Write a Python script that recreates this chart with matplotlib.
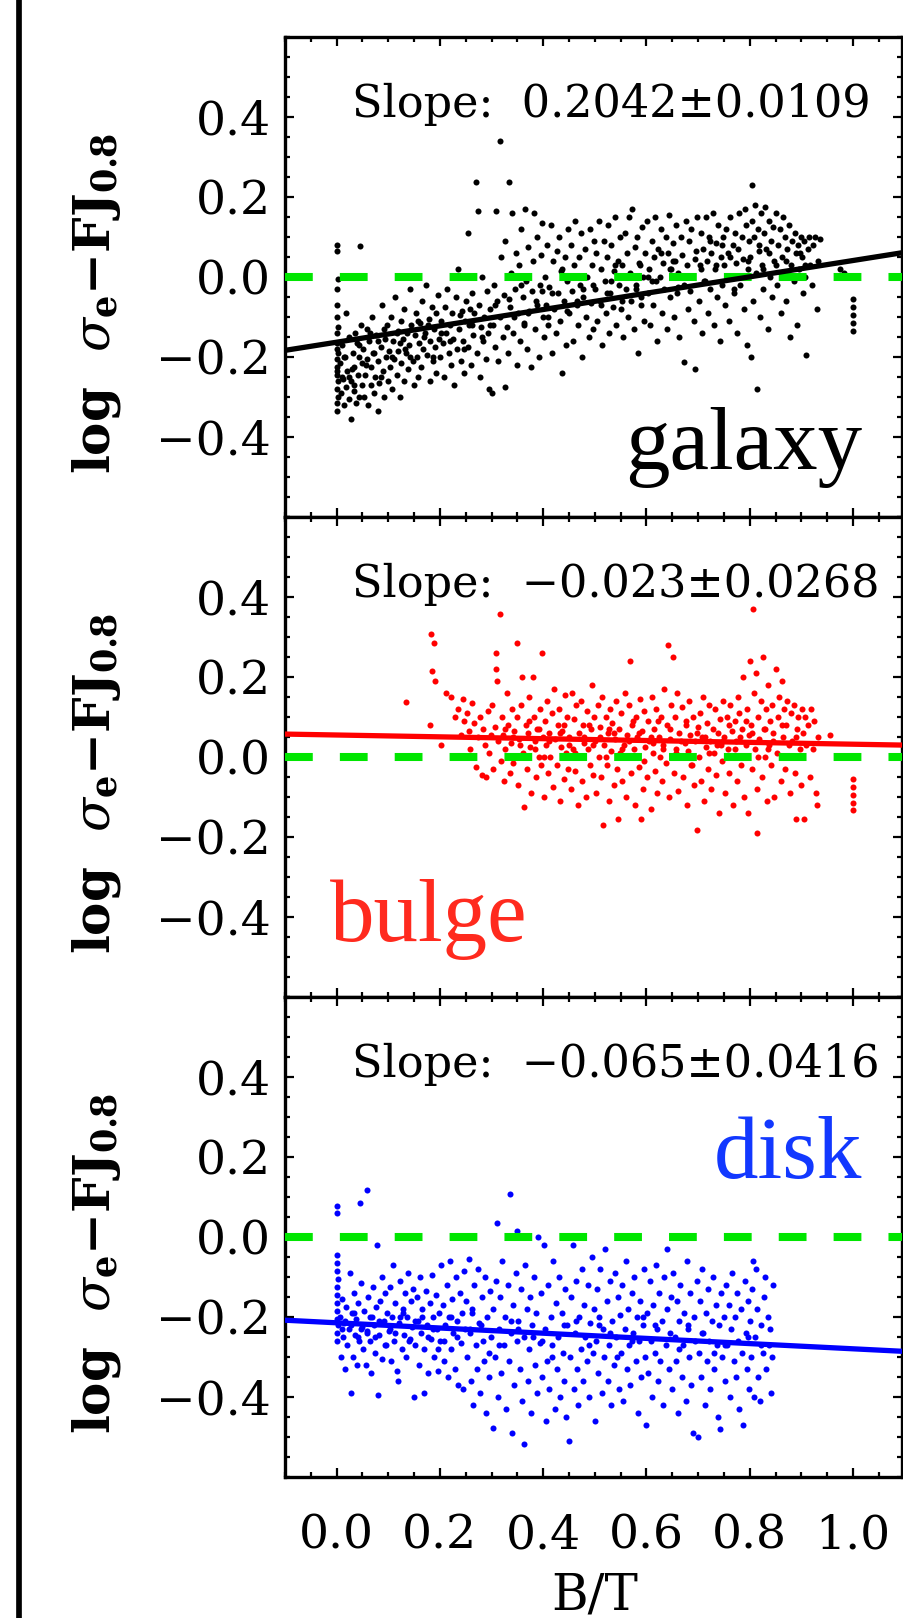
import numpy as np
import matplotlib
matplotlib.use("Agg")
import matplotlib.pyplot as plt
from matplotlib.lines import Line2D
from matplotlib.ticker import MultipleLocator, FuncFormatter

plt.rcParams['font.family'] = ['DejaVu Serif']
plt.rcParams['mathtext.fontset'] = 'dejavuserif'
plt.rcParams['lines.scale_dashes'] = False

# residuals vs B/T (x = B/T, y = log sigma_e - FJ_0.8)
galaxy_pts = [
    (0.0, 0.08), (0.0, 0.065), (0.002, -0.005), (0.0, -0.03), (0.001, -0.07), (0.0, -0.1),
    (0.003, -0.125), (0.0, -0.14), (0.0, -0.165), (0.002, -0.19), (0.0, -0.205), (0.001, -0.225),
    (0.0, -0.245), (0.003, -0.26), (0.0, -0.28), (0.002, -0.3), (0.0, -0.315), (0.001, -0.335),
    (0.0, -0.18), (0.0, -0.235),
    (0.007, -0.215), (0.009, -0.29), (0.011, -0.17), (0.012, -0.255), (0.014, -0.32), (0.016, -0.2),
    (0.019, -0.275), (0.021, -0.235), (0.023, -0.305), (0.024, -0.15), (0.027, -0.356), (0.028, -0.26),
    (0.031, -0.19), (0.033, -0.285), (0.034, -0.225), (0.037, -0.315), (0.039, -0.165), (0.041, -0.245),
    (0.043, -0.2), (0.044, -0.3), (0.046, 0.077), (0.047, -0.12), (0.049, -0.27), (0.05, -0.215),
    (0.018, -0.09), (0.036, -0.14),
    (0.052, -0.18), (0.053, -0.3), (0.055, -0.245), (0.058, -0.13), (0.059, -0.205), (0.061, -0.32),
    (0.063, -0.16), (0.066, -0.27), (0.067, -0.225), (0.069, -0.1), (0.072, -0.29), (0.073, -0.19),
    (0.075, -0.25), (0.077, -0.145), (0.08, -0.335), (0.081, -0.21), (0.083, -0.265), (0.086, -0.175),
    (0.087, -0.07), (0.089, -0.235), (0.092, -0.3), (0.093, -0.155), (0.095, -0.2), (0.098, -0.12),
    (0.099, -0.26),
    (0.101, -0.185), (0.104, -0.225), (0.105, -0.1), (0.107, -0.28), (0.11, -0.16), (0.112, -0.205),
    (0.113, -0.05), (0.116, -0.245), (0.118, -0.135), (0.119, -0.185), (0.122, -0.3), (0.124, -0.11),
    (0.125, -0.215), (0.128, -0.155), (0.13, -0.26), (0.131, -0.08), (0.134, -0.19), (0.136, -0.14),
    (0.138, -0.23), (0.141, -0.17), (0.143, -0.03), (0.145, -0.12), (0.147, -0.21), (0.149, -0.27),
    (0.151, -0.145), (0.153, -0.09), (0.156, -0.2), (0.157, -0.25), (0.159, -0.165), (0.162, -0.115),
    (0.164, -0.225), (0.166, -0.06), (0.168, -0.18), (0.171, -0.14), (0.173, -0.02), (0.175, -0.195),
    (0.178, -0.105), (0.18, -0.26), (0.181, -0.16), (0.184, -0.075), (0.186, -0.21), (0.189, -0.13),
    (0.191, -0.175), (0.193, -0.24), (0.196, -0.045), (0.198, -0.155),
    (0.201, -0.2), (0.203, -0.11), (0.206, -0.165), (0.207, -0.25), (0.21, -0.075), (0.212, -0.14),
    (0.214, -0.03), (0.217, -0.19), (0.219, -0.12), (0.221, -0.22), (0.224, -0.09), (0.226, -0.155),
    (0.228, -0.27), (0.231, -0.05), (0.233, -0.18), (0.235, 0.02), (0.237, -0.13), (0.24, -0.21),
    (0.242, -0.085), (0.244, -0.16), (0.247, -0.24), (0.249, -0.11),
    (0.251, -0.06), (0.254, 0.11), (0.255, -0.175), (0.257, -0.12), (0.26, -0.22), (0.262, -0.04),
    (0.264, -0.145), (0.266, -0.09), (0.27, 0.237), (0.271, -0.19), (0.273, 0.165), (0.275, -0.07),
    (0.277, -0.25), (0.279, -0.125), (0.282, 0.0), (0.284, -0.16), (0.286, -0.1), (0.289, -0.205),
    (0.291, -0.035), (0.293, -0.14), (0.296, -0.28), (0.298, -0.08),
    (0.301, -0.29), (0.302, -0.12), (0.305, -0.02), (0.307, -0.175), (0.309, 0.165), (0.311, -0.06),
    (0.313, -0.21), (0.316, 0.34), (0.317, -0.1), (0.319, 0.05), (0.322, -0.15), (0.324, -0.045),
    (0.326, -0.276), (0.327, 0.09), (0.33, -0.125), (0.332, -0.19), (0.334, 0.237), (0.336, -0.075),
    (0.338, 0.01), (0.34, 0.16), (0.342, -0.14), (0.345, -0.03), (0.347, 0.06), (0.349, -0.22),
    (0.351, -0.09), (0.353, 0.03), (0.356, -0.16), (0.358, 0.12), (0.36, -0.05), (0.362, -0.115),
    (0.364, 0.17), (0.367, -0.01), (0.369, -0.18), (0.371, 0.075), (0.373, -0.085), (0.376, -0.225),
    (0.378, -0.035), (0.38, 0.04), (0.382, 0.16), (0.385, -0.13), (0.387, -0.06), (0.389, 0.1),
    (0.392, -0.2), (0.394, -0.02), (0.396, 0.055), (0.399, -0.1), (0.398, 0.135),
    (0.401, -0.15), (0.403, 0.0), (0.406, -0.07), (0.408, 0.08), (0.41, -0.12), (0.412, -0.025),
    (0.415, 0.13), (0.417, -0.19), (0.419, 0.04), (0.421, -0.08), (0.424, -0.14), (0.426, 0.065),
    (0.428, -0.04), (0.431, 0.1), (0.433, -0.11), (0.435, 0.015), (0.437, -0.24), (0.44, -0.06),
    (0.442, 0.05), (0.444, -0.17), (0.447, -0.01), (0.449, 0.12),
    (0.451, -0.09), (0.453, 0.08), (0.456, -0.035), (0.458, -0.16), (0.46, 0.03), (0.462, 0.14),
    (0.465, -0.07), (0.467, -0.12), (0.469, 0.05), (0.472, -0.02), (0.474, 0.11), (0.476, -0.2),
    (0.478, -0.05), (0.481, 0.07), (0.483, -0.1), (0.485, 0.0), (0.488, -0.15), (0.49, 0.12),
    (0.492, -0.065), (0.494, 0.03), (0.497, -0.13), (0.499, 0.09),
    (0.501, -0.03), (0.503, 0.06), (0.505, -0.11), (0.508, 0.14), (0.51, -0.06), (0.512, 0.02),
    (0.514, -0.17), (0.517, 0.09), (0.519, -0.01), (0.521, -0.09), (0.523, 0.05), (0.526, 0.13),
    (0.528, -0.14), (0.53, -0.04), (0.532, 0.08), (0.535, -0.075), (0.537, 0.015), (0.539, 0.15),
    (0.541, -0.12), (0.544, 0.04), (0.546, -0.02), (0.548, 0.1),
    (0.551, -0.08), (0.553, 0.03), (0.555, -0.15), (0.558, 0.11), (0.56, -0.03), (0.562, 0.06),
    (0.564, -0.1), (0.567, 0.15), (0.569, 0.0), (0.571, -0.06), (0.573, 0.17), (0.575, -0.13),
    (0.577, 0.075), (0.58, -0.02), (0.582, 0.1), (0.584, -0.19), (0.586, 0.035), (0.589, -0.07),
    (0.591, 0.125), (0.593, 0.0), (0.595, -0.11), (0.598, 0.06),
    (0.601, 0.14), (0.603, -0.04), (0.605, 0.02), (0.607, -0.12), (0.61, 0.09), (0.612, -0.07),
    (0.614, 0.05), (0.616, 0.15), (0.619, -0.01), (0.621, -0.16), (0.623, 0.07), (0.626, 0.0),
    (0.628, 0.12), (0.63, -0.09), (0.632, 0.035), (0.635, -0.03), (0.637, 0.1), (0.639, -0.13),
    (0.641, 0.06), (0.644, 0.155), (0.646, -0.05), (0.648, 0.02),
    (0.651, 0.085), (0.653, -0.1), (0.655, 0.04), (0.658, 0.13), (0.66, -0.04), (0.662, 0.01),
    (0.664, -0.15), (0.667, 0.1), (0.669, 0.055), (0.672, -0.213), (0.673, -0.02), (0.676, 0.14),
    (0.678, 0.03), (0.68, -0.08), (0.682, 0.09), (0.685, -0.035), (0.687, 0.12), (0.689, 0.0),
    (0.692, -0.11), (0.695, -0.23), (0.696, 0.065), (0.698, 0.15),
    (0.701, -0.06), (0.703, 0.03), (0.706, 0.11), (0.708, -0.14), (0.71, 0.07), (0.712, -0.01),
    (0.715, 0.15), (0.717, 0.04), (0.719, -0.09), (0.721, 0.1), (0.724, -0.03), (0.726, 0.06),
    (0.728, 0.16), (0.73, -0.12), (0.733, 0.02), (0.735, 0.085), (0.737, -0.05), (0.739, 0.13),
    (0.742, -0.16), (0.744, 0.05), (0.746, -0.02), (0.749, 0.1),
    (0.751, 0.03), (0.753, -0.07), (0.755, 0.12), (0.758, 0.06), (0.76, -0.11), (0.762, 0.15),
    (0.764, 0.0), (0.767, 0.08), (0.769, -0.04), (0.771, 0.11), (0.773, 0.035), (0.776, -0.14),
    (0.778, 0.07), (0.78, 0.16), (0.782, -0.02), (0.785, 0.1), (0.787, 0.045), (0.789, -0.08),
    (0.79, 0.17), (0.792, 0.13), (0.794, -0.17), (0.797, 0.02), (0.799, 0.09),
    (0.801, 0.05), (0.802, -0.2), (0.804, 0.23), (0.805, 0.14), (0.807, -0.06), (0.809, 0.1),
    (0.811, 0.18), (0.813, 0.01), (0.815, -0.28), (0.816, 0.12), (0.818, 0.065), (0.82, -0.1),
    (0.822, 0.16), (0.824, 0.03), (0.826, -0.03), (0.828, 0.11), (0.83, 0.175), (0.832, 0.07),
    (0.835, -0.13), (0.837, 0.14), (0.839, 0.0), (0.841, 0.09), (0.844, -0.05), (0.846, 0.125),
    (0.848, 0.04),
    (0.851, 0.16), (0.853, -0.02), (0.855, 0.08), (0.858, 0.12), (0.86, -0.09), (0.862, 0.05),
    (0.864, 0.15), (0.867, 0.01), (0.869, 0.1), (0.871, -0.06), (0.873, 0.07), (0.876, 0.13),
    (0.878, -0.15), (0.88, 0.03), (0.882, 0.09), (0.885, -0.01), (0.887, 0.11), (0.889, 0.06),
    (0.892, -0.12), (0.894, 0.08), (0.896, 0.02), (0.899, 0.1),
    (0.901, 0.05), (0.903, -0.04), (0.906, 0.09), (0.908, 0.0), (0.91, -0.196), (0.912, 0.07),
    (0.915, 0.1), (0.917, 0.03), (0.92, -0.02), (0.923, 0.08), (0.926, 0.1), (0.93, -0.08),
    (0.933, 0.04), (0.936, 0.095),
    (0.975, 0.02), (0.982, 0.01), (1.0, -0.056), (1.0, -0.075), (1.0, -0.095), (1.0, -0.115),
    (1.0, -0.135),
    # denser core along the trend
    (0.043, -0.17), (0.117, -0.14), (0.262, -0.12), (0.071, -0.19), (0.389, -0.07), (0.523, -0.04),
    (0.158, -0.11), (0.611, -0.01), (0.734, 0.03), (0.029, -0.23), (0.447, -0.085), (0.826, 0.02),
    (0.203, -0.14), (0.568, 0.01), (0.092, -0.13), (0.679, 0.0), (0.344, -0.1), (0.761, 0.05),
    (0.014, -0.2), (0.497, -0.02), (0.871, 0.04), (0.133, -0.18), (0.306, -0.07), (0.652, 0.04),
    (0.418, -0.04), (0.057, -0.22), (0.782, 0.0), (0.239, -0.095), (0.589, -0.05), (0.908, 0.03),
    (0.176, -0.12), (0.362, -0.12), (0.713, -0.01), (0.081, -0.16), (0.539, 0.03), (0.281, -0.15),
    (0.629, 0.06), (0.851, 0.03), (0.024, -0.25), (0.466, -0.06), (0.747, 0.08), (0.122, -0.165),
    (0.397, -0.035), (0.579, -0.03), (0.186, -0.2), (0.694, 0.045), (0.333, -0.055), (0.838, 0.06),
    (0.064, -0.14), (0.512, -0.07), (0.258, -0.08), (0.661, -0.025), (0.436, 0.02), (0.143, -0.2),
    (0.797, 0.04), (0.881, 0.0), (0.219, -0.16), (0.603, 0.0), (0.371, -0.09), (0.033, -0.27),
    (0.769, -0.03), (0.553, -0.06), (0.107, -0.2), (0.297, -0.12), (0.478, -0.03), (0.724, 0.09),
    (0.011, -0.25), (0.645, 0.02), (0.169, -0.15), (0.819, 0.08), (0.409, -0.1), (0.532, -0.01),
    (0.246, -0.18), (0.897, 0.06), (0.086, -0.25), (0.357, -0.02), (0.706, 0.02), (0.587, 0.03),
    (0.458, 0.0), (0.192, -0.09),
]

bulge_pts = [
    (0.134, 0.138), (0.18, 0.079), (0.183, 0.307), (0.188, 0.285), (0.185, 0.214), (0.191, 0.19),
    (0.202, 0.03), (0.212, 0.16), (0.221, 0.15), (0.229, 0.1), (0.236, 0.12), (0.244, 0.145),
    (0.24, 0.055), (0.247, 0.09),
    (0.252, 0.11), (0.256, 0.065), (0.259, 0.02), (0.263, 0.135), (0.266, 0.085), (0.27, -0.025),
    (0.274, 0.05), (0.277, 0.1), (0.281, -0.045), (0.284, 0.07), (0.287, 0.03), (0.29, -0.05),
    (0.293, 0.115), (0.296, 0.01), (0.299, 0.055),
    (0.301, 0.13), (0.303, -0.03), (0.306, 0.075), (0.308, 0.26), (0.309, 0.22), (0.311, 0.19),
    (0.313, 0.04), (0.316, 0.358), (0.318, -0.01), (0.32, 0.1), (0.323, 0.055), (0.325, -0.06),
    (0.327, 0.02), (0.33, 0.16), (0.332, 0.08), (0.335, -0.04), (0.337, 0.035), (0.339, 0.12),
    (0.342, -0.015), (0.344, 0.065), (0.347, 0.0), (0.349, 0.286), (0.35, 0.1),
    (0.352, -0.07), (0.354, 0.045), (0.357, 0.13), (0.359, 0.2), (0.361, 0.01), (0.363, -0.124),
    (0.366, 0.08), (0.368, -0.03), (0.37, 0.06), (0.373, 0.15), (0.375, 0.025), (0.377, -0.09),
    (0.38, 0.2), (0.382, 0.1), (0.384, 0.04), (0.387, -0.05), (0.389, 0.07), (0.391, 0.0),
    (0.394, 0.12), (0.396, -0.02), (0.398, 0.259), (0.399, 0.05),
    (0.401, -0.1), (0.403, 0.09), (0.405, 0.03), (0.408, 0.14), (0.41, -0.04), (0.412, 0.06),
    (0.414, 0.0), (0.417, 0.11), (0.419, -0.075), (0.421, 0.17), (0.423, 0.045), (0.426, -0.02),
    (0.428, 0.08), (0.43, 0.12), (0.433, -0.11), (0.435, 0.025), (0.437, 0.065), (0.44, -0.055),
    (0.442, 0.155), (0.444, 0.01), (0.447, 0.1), (0.449, -0.03),
    (0.451, 0.05), (0.453, -0.08), (0.455, 0.16), (0.458, 0.02), (0.46, 0.095), (0.462, -0.035),
    (0.464, 0.13), (0.467, -0.12), (0.469, 0.06), (0.471, 0.0), (0.474, 0.14), (0.476, -0.06),
    (0.478, 0.08), (0.48, 0.035), (0.483, -0.1), (0.485, 0.115), (0.487, 0.02), (0.49, -0.02),
    (0.492, 0.07), (0.494, 0.18), (0.497, -0.045), (0.499, 0.1),
    (0.501, 0.04), (0.503, -0.09), (0.506, 0.13), (0.508, 0.0), (0.51, 0.075), (0.512, -0.05),
    (0.514, 0.15), (0.516, -0.17), (0.518, 0.03), (0.521, 0.1), (0.523, -0.02), (0.525, 0.06),
    (0.527, -0.11), (0.53, 0.12), (0.532, 0.015), (0.534, 0.085), (0.537, -0.07), (0.539, 0.045),
    (0.541, 0.14), (0.543, -0.03), (0.545, -0.155), (0.547, 0.07), (0.549, 0.01),
    (0.551, 0.11), (0.553, -0.06), (0.556, 0.03), (0.558, 0.16), (0.56, -0.1), (0.562, 0.055),
    (0.565, 0.0), (0.567, 0.13), (0.569, 0.24), (0.571, -0.04), (0.573, 0.08), (0.576, 0.02),
    (0.578, -0.12), (0.58, 0.1), (0.582, 0.05), (0.585, -0.025), (0.587, 0.145), (0.589, -0.155),
    (0.591, 0.065), (0.594, -0.08), (0.596, 0.115), (0.598, 0.025),
    (0.601, -0.05), (0.603, 0.09), (0.605, 0.04), (0.608, -0.13), (0.61, 0.15), (0.612, 0.01),
    (0.614, 0.07), (0.617, -0.035), (0.619, 0.12), (0.621, -0.09), (0.624, 0.05), (0.626, 0.0),
    (0.628, 0.1), (0.63, -0.06), (0.633, 0.03), (0.635, 0.17), (0.637, -0.015), (0.64, 0.08),
    (0.642, 0.28), (0.644, -0.1), (0.646, 0.045), (0.648, 0.13),
    (0.651, 0.25), (0.653, -0.04), (0.655, 0.1), (0.658, 0.02), (0.66, 0.16), (0.662, -0.085),
    (0.664, 0.06), (0.667, 0.0), (0.669, 0.125), (0.671, -0.05), (0.674, 0.035), (0.676, 0.09),
    (0.678, -0.12), (0.68, 0.015), (0.683, 0.14), (0.685, 0.055), (0.687, -0.02), (0.69, 0.1),
    (0.692, -0.07), (0.694, 0.04), (0.697, -0.183), (0.699, 0.075),
    (0.701, 0.0), (0.703, 0.11), (0.706, -0.06), (0.708, 0.05), (0.71, 0.15), (0.712, -0.11),
    (0.715, 0.025), (0.717, 0.085), (0.719, -0.03), (0.722, 0.13), (0.724, 0.04), (0.726, -0.08),
    (0.728, 0.07), (0.731, 0.01), (0.733, 0.12), (0.735, -0.045), (0.738, 0.06), (0.74, -0.14),
    (0.742, 0.095), (0.744, 0.03), (0.747, -0.01), (0.749, 0.14),
    (0.751, 0.05), (0.753, -0.09), (0.756, 0.1), (0.758, 0.02), (0.76, -0.04), (0.762, 0.13),
    (0.765, 0.065), (0.767, -0.12), (0.769, 0.0), (0.771, 0.09), (0.774, 0.04), (0.776, -0.06),
    (0.778, 0.15), (0.78, 0.11), (0.783, -0.02), (0.785, 0.07), (0.787, 0.2), (0.789, -0.1),
    (0.792, 0.03), (0.794, 0.12), (0.796, -0.14), (0.798, 0.055),
    (0.801, 0.24), (0.802, 0.08), (0.804, -0.03), (0.806, 0.369), (0.808, 0.16), (0.81, 0.02),
    (0.812, 0.21), (0.814, -0.08), (0.815, -0.19), (0.817, 0.1), (0.819, 0.045), (0.821, 0.14),
    (0.823, -0.05), (0.825, 0.25), (0.827, 0.07), (0.829, 0.0), (0.831, 0.12), (0.833, -0.11),
    (0.836, 0.18), (0.838, 0.03), (0.84, 0.09), (0.842, -0.02), (0.844, 0.13), (0.846, 0.06),
    (0.848, -0.1),
    (0.851, 0.22), (0.853, 0.01), (0.855, 0.1), (0.857, 0.15), (0.86, -0.06), (0.862, 0.19),
    (0.864, 0.05), (0.866, 0.12), (0.869, -0.03), (0.871, 0.08), (0.873, 0.14), (0.875, 0.0),
    (0.878, -0.09), (0.88, 0.11), (0.882, 0.04), (0.885, 0.13), (0.887, -0.04), (0.89, -0.155),
    (0.892, 0.07), (0.894, 0.1), (0.897, 0.02), (0.899, -0.07),
    (0.901, 0.12), (0.903, 0.06), (0.905, -0.155), (0.907, 0.1), (0.91, 0.03), (0.913, 0.08),
    (0.916, -0.05), (0.919, 0.12), (0.922, 0.02), (0.925, 0.09), (0.928, -0.09), (0.93, -0.12),
    (0.933, 0.05), (0.955, 0.055),
    (1.0, -0.055), (1.0, -0.075), (1.0, -0.095), (1.0, -0.115), (1.0, -0.132),
    # denser core near the fit
    (0.412, 0.04), (0.633, 0.02), (0.527, 0.07), (0.781, 0.05), (0.356, 0.03), (0.698, 0.06),
    (0.462, 0.01), (0.845, 0.04), (0.574, 0.09), (0.391, 0.07), (0.736, 0.03), (0.609, 0.05),
    (0.488, 0.08), (0.817, 0.0), (0.341, 0.05), (0.667, 0.04), (0.553, 0.02), (0.759, 0.08),
    (0.432, 0.06), (0.876, 0.03), (0.596, -0.01), (0.511, 0.05), (0.722, 0.01), (0.373, 0.09),
    (0.646, 0.07), (0.804, 0.06), (0.451, 0.03), (0.688, -0.02), (0.538, 0.06), (0.863, 0.08),
    (0.402, 0.0), (0.771, 0.02), (0.623, 0.09), (0.479, 0.05), (0.829, 0.07), (0.566, 0.04),
    (0.713, 0.05), (0.327, 0.07), (0.657, 0.01), (0.497, 0.03), (0.792, 0.09), (0.441, 0.08),
    (0.585, 0.06), (0.748, 0.04), (0.384, 0.02), (0.836, 0.02), (0.521, 0.0), (0.676, 0.08),
    (0.613, 0.035), (0.889, 0.05),
]

disk_pts = [
    (0.0, 0.078), (0.0, 0.06), (0.001, -0.045), (0.0, -0.065), (0.0, -0.085), (0.002, -0.105),
    (0.0, -0.125), (0.0, -0.145), (0.001, -0.165), (0.0, -0.185), (0.0, -0.205), (0.002, -0.22),
    (0.0, -0.24), (0.0, -0.26),
    (0.006, -0.2), (0.008, -0.3), (0.01, -0.155), (0.012, -0.25), (0.014, -0.215), (0.017, -0.33),
    (0.018, -0.175), (0.021, -0.27), (0.023, -0.23), (0.025, -0.09), (0.027, -0.39), (0.029, -0.19),
    (0.031, -0.3), (0.034, -0.14), (0.035, -0.245), (0.038, -0.205), (0.04, -0.32), (0.042, -0.165),
    (0.045, 0.085), (0.044, -0.26), (0.047, -0.115), (0.049, -0.225),
    (0.051, -0.28), (0.053, -0.185), (0.056, -0.32), (0.058, 0.118), (0.059, -0.235), (0.061, -0.15),
    (0.064, -0.26), (0.065, -0.2), (0.067, -0.34), (0.07, -0.125), (0.072, -0.22), (0.074, -0.29),
    (0.076, -0.175), (0.078, -0.02), (0.08, -0.395), (0.082, -0.245), (0.084, -0.16), (0.087, -0.1),
    (0.088, -0.305), (0.091, -0.21), (0.093, -0.14), (0.095, -0.27), (0.098, -0.19),
    (0.101, -0.235), (0.103, -0.125), (0.105, -0.31), (0.107, -0.2), (0.11, -0.07), (0.112, -0.26),
    (0.114, -0.165), (0.117, -0.335), (0.119, -0.36), (0.121, -0.215), (0.123, -0.11), (0.126, -0.28),
    (0.128, -0.18), (0.13, -0.245), (0.132, -0.14), (0.135, -0.3), (0.137, -0.2), (0.139, -0.09),
    (0.142, -0.255), (0.144, -0.16), (0.146, -0.225), (0.148, -0.13),
    (0.15, -0.4), (0.152, -0.27), (0.155, -0.15), (0.157, -0.21), (0.159, -0.32), (0.161, -0.1),
    (0.164, -0.24), (0.166, -0.18), (0.169, -0.39), (0.17, -0.28), (0.173, -0.135), (0.175, -0.22),
    (0.177, -0.34), (0.18, -0.165), (0.182, -0.255), (0.185, -0.095), (0.187, -0.2), (0.189, -0.3),
    (0.192, -0.145), (0.194, -0.23), (0.197, -0.335), (0.199, -0.19),
    (0.201, -0.26), (0.203, -0.07), (0.206, -0.17), (0.208, -0.31), (0.21, -0.22), (0.213, -0.12),
    (0.215, -0.35), (0.217, -0.2), (0.219, -0.06), (0.222, -0.28), (0.224, -0.155), (0.226, -0.24),
    (0.229, -0.33), (0.231, -0.1), (0.233, -0.21), (0.236, -0.37), (0.238, -0.14), (0.24, -0.265),
    (0.243, -0.19), (0.245, -0.38), (0.247, -0.085), (0.249, -0.23),
    (0.251, -0.16), (0.253, -0.3), (0.256, -0.055), (0.258, -0.24), (0.26, -0.36), (0.262, -0.19),
    (0.265, -0.42), (0.267, -0.12), (0.269, -0.27), (0.272, -0.33), (0.274, -0.08), (0.276, -0.215),
    (0.278, -0.39), (0.281, -0.15), (0.283, -0.26), (0.285, -0.31), (0.288, -0.1), (0.29, -0.44),
    (0.292, -0.2), (0.295, -0.35), (0.297, -0.135), (0.299, -0.25),
    (0.302, -0.478), (0.303, -0.18), (0.306, -0.3), (0.308, -0.11), (0.31, 0.035), (0.312, -0.4),
    (0.314, -0.23), (0.317, -0.15), (0.319, -0.34), (0.321, -0.06), (0.324, -0.27), (0.326, -0.2),
    (0.328, -0.43), (0.331, -0.12), (0.333, -0.31), (0.335, 0.108), (0.337, -0.24), (0.34, -0.49),
    (0.342, -0.17), (0.344, -0.37), (0.347, -0.09), (0.349, -0.26),
    (0.35, 0.015), (0.352, -0.21), (0.355, -0.33), (0.357, -0.13), (0.359, -0.41), (0.362, -0.25),
    (0.363, -0.518), (0.365, -0.07), (0.368, -0.18), (0.37, -0.36), (0.372, -0.28), (0.375, -0.15),
    (0.377, -0.44), (0.379, -0.22), (0.382, -0.1), (0.384, -0.32), (0.386, -0.19), (0.389, -0.39),
    (0.39, 0.0), (0.393, -0.265), (0.395, -0.14), (0.398, -0.35),
    (0.401, -0.02), (0.403, -0.23), (0.405, -0.46), (0.408, -0.31), (0.41, -0.12), (0.412, -0.38),
    (0.415, -0.2), (0.417, -0.27), (0.419, -0.06), (0.422, -0.43), (0.424, -0.165), (0.426, -0.33),
    (0.429, -0.25), (0.431, -0.1), (0.433, -0.4), (0.436, -0.19), (0.438, -0.29), (0.44, -0.36),
    (0.443, -0.13), (0.445, -0.45), (0.447, -0.22), (0.45, -0.51),
    (0.452, -0.3), (0.454, -0.15), (0.457, -0.02), (0.459, -0.38), (0.461, -0.24), (0.464, -0.11),
    (0.466, -0.33), (0.468, -0.42), (0.47, -0.2), (0.473, -0.28), (0.475, -0.08), (0.477, -0.36),
    (0.48, -0.17), (0.482, -0.25), (0.484, -0.31), (0.487, -0.12), (0.489, -0.4), (0.491, -0.215),
    (0.494, -0.05), (0.496, -0.29), (0.498, -0.18),
    (0.5, -0.46), (0.502, -0.26), (0.504, -0.13), (0.507, -0.34), (0.509, -0.2), (0.511, -0.08),
    (0.514, -0.39), (0.516, -0.23), (0.518, -0.3), (0.52, -0.03), (0.523, -0.16), (0.525, -0.36),
    (0.527, -0.27), (0.53, -0.11), (0.532, -0.42), (0.534, -0.21), (0.537, -0.32), (0.539, -0.09),
    (0.541, -0.25), (0.544, -0.15), (0.546, -0.38), (0.548, -0.195),
    (0.551, -0.29), (0.553, -0.12), (0.555, -0.41), (0.558, -0.23), (0.56, -0.06), (0.562, -0.33),
    (0.565, -0.18), (0.567, -0.27), (0.569, -0.37), (0.572, -0.14), (0.574, -0.24), (0.576, -0.1),
    (0.579, -0.31), (0.581, -0.2), (0.583, -0.44), (0.586, -0.26), (0.588, -0.16), (0.59, -0.35),
    (0.593, -0.22), (0.595, -0.08), (0.597, -0.3), (0.6, -0.47),
    (0.602, -0.19), (0.604, -0.34), (0.606, -0.11), (0.609, -0.26), (0.611, -0.4), (0.613, -0.17),
    (0.616, -0.29), (0.618, -0.07), (0.62, -0.23), (0.623, -0.36), (0.625, -0.14), (0.627, -0.31),
    (0.63, -0.21), (0.632, -0.42), (0.634, -0.1), (0.637, -0.27), (0.639, -0.18), (0.64, -0.03),
    (0.643, -0.33), (0.645, -0.24), (0.648, -0.15),
    (0.65, -0.38), (0.652, -0.09), (0.655, -0.25), (0.657, -0.31), (0.659, -0.16), (0.662, -0.44),
    (0.664, -0.21), (0.666, -0.12), (0.669, -0.35), (0.671, -0.27), (0.673, -0.19), (0.676, -0.41),
    (0.678, -0.06), (0.68, -0.23), (0.683, -0.3), (0.685, -0.14), (0.687, -0.37), (0.69, -0.49),
    (0.692, -0.2), (0.694, -0.26), (0.697, -0.11), (0.7, -0.5),
    (0.701, -0.29), (0.703, -0.16), (0.706, -0.35), (0.708, -0.08), (0.71, -0.24), (0.713, -0.42),
    (0.715, -0.19), (0.717, -0.31), (0.72, -0.13), (0.722, -0.26), (0.724, -0.38), (0.727, -0.21),
    (0.729, -0.1), (0.731, -0.33), (0.734, -0.17), (0.736, -0.27), (0.738, -0.45), (0.741, -0.22),
    (0.742, -0.48), (0.745, -0.14), (0.747, -0.3),
    (0.75, -0.2), (0.752, -0.36), (0.755, -0.12), (0.757, -0.27), (0.759, -0.17), (0.762, -0.4),
    (0.764, -0.23), (0.766, -0.09), (0.769, -0.31), (0.771, -0.2), (0.773, -0.35), (0.776, -0.14),
    (0.778, -0.26), (0.78, -0.43), (0.783, -0.18), (0.785, -0.29), (0.787, -0.47), (0.79, -0.11),
    (0.792, -0.24), (0.794, -0.33), (0.797, -0.16), (0.799, -0.38),
    (0.801, -0.21), (0.803, -0.3), (0.805, -0.13), (0.807, -0.06), (0.809, -0.4), (0.811, -0.25),
    (0.813, -0.08), (0.815, -0.18), (0.817, -0.35), (0.82, -0.41), (0.822, -0.22), (0.825, -0.29),
    (0.827, -0.15), (0.83, -0.1), (0.832, -0.33), (0.835, -0.2), (0.838, -0.27), (0.84, -0.23),
    (0.842, -0.39), (0.844, -0.3), (0.846, -0.12),
    # denser core near the fit
    (0.027, -0.22), (0.113, -0.24), (0.068, -0.2), (0.186, -0.23), (0.041, -0.25), (0.152, -0.21),
    (0.094, -0.27), (0.233, -0.25), (0.017, -0.21), (0.128, -0.19), (0.279, -0.22), (0.059, -0.24),
    (0.207, -0.26), (0.166, -0.2), (0.315, -0.27), (0.083, -0.21), (0.352, -0.23), (0.141, -0.26),
    (0.263, -0.18), (0.034, -0.19), (0.397, -0.26), (0.221, -0.2), (0.441, -0.22), (0.103, -0.23),
    (0.488, -0.27), (0.176, -0.25), (0.529, -0.24), (0.296, -0.29), (0.572, -0.26), (0.048, -0.23),
    (0.617, -0.22), (0.338, -0.21), (0.663, -0.28), (0.122, -0.2), (0.707, -0.24), (0.418, -0.3),
    (0.752, -0.27), (0.197, -0.28), (0.796, -0.25), (0.463, -0.21), (0.074, -0.25), (0.543, -0.3),
    (0.259, -0.23), (0.681, -0.22), (0.381, -0.25), (0.594, -0.2), (0.011, -0.23), (0.731, -0.29),
    (0.508, -0.22), (0.821, -0.27),
]

names = ['galaxy', 'bulge', 'disk']
slopes = [0.2042, -0.023, -0.065]
slope_txt = ['0.2042±0.0109', '−0.023±0.0268', '−0.065±0.0416']
intercepts = [-0.163, 0.055, -0.2145]
colors = ['black', '#ff0000', '#0000ff']
name_colors = ['black', '#ff2a1e', '#1238ff']


def fmt(v, pos):
    if abs(v) < 1e-9:
        v = 0.0
    return ('%.1f' % v).replace('-', '−')


fig = plt.figure(figsize=(9.04, 16.18), dpi=100)

# frame line on the left edge
fig.add_artist(Line2D([19 / 904, 19 / 904], [0, 1], transform=fig.transFigure,
                      color='black', lw=4.1))

left, width = 285 / 904, 617 / 904
h = 480 / 1618
bottom0 = 1 - 1477 / 1618
ylab = r'log  $\sigma_{\mathbf{e}}$−FJ$_{\mathbf{0.8}}$'

for i, (name, pts) in enumerate(zip(names, [galaxy_pts, bulge_pts, disk_pts])):
    ax = fig.add_axes([left, bottom0 + (2 - i) * h, width, h])
    x, y = np.array(pts).T
    ax.scatter(x, y, s=19, c=colors[i], linewidths=0, zorder=2)
    ax.axhline(0, color='#00e600', lw=5.8, dashes=(20, 19.5), zorder=3)
    ax.axline((0, intercepts[i]), slope=slopes[i], color=colors[i], lw=3.8, zorder=4)

    ax.set_xlim(-0.1, 1.095)
    ax.set_ylim(-0.6, 0.6)
    ax.xaxis.set_major_locator(MultipleLocator(0.2))
    ax.xaxis.set_minor_locator(MultipleLocator(0.05))
    ax.yaxis.set_major_locator(MultipleLocator(0.2))
    ax.yaxis.set_minor_locator(MultipleLocator(0.05))
    ax.set_yticks([-0.4, -0.2, 0.0, 0.2, 0.4])
    ax.tick_params(which='both', direction='in', top=True, right=True, width=1.6)
    ax.tick_params(which='major', length=6.5)
    ax.tick_params(which='minor', length=3.6)
    ax.tick_params(axis='y', labelsize=34, pad=10)
    ax.tick_params(axis='x', labelsize=34, pad=26, labelbottom=(i == 2))
    ax.yaxis.set_major_formatter(FuncFormatter(fmt))
    ax.xaxis.set_major_formatter(FuncFormatter(fmt))
    for sp in ax.spines.values():
        sp.set_linewidth(2.4)

    ax.text(0.03, 0.40, 'Slope:  ' + slope_txt[i], fontsize=32, ha='left',
            va='baseline', zorder=5)

    ax.text(-0.305, 0.444, ylab, transform=ax.transAxes, rotation=90,
            ha='center', va='center', fontsize=36, fontweight='bold')

    if name == 'galaxy':
        ax.text(1.018, -0.48, name, ha='right', va='baseline', fontsize=64,
                family='Liberation Serif', color=name_colors[i])
    elif name == 'bulge':
        ax.text(-0.013, -0.46, name, ha='left', va='baseline', fontsize=64,
                family='Liberation Serif', color=name_colors[i])
    else:
        ax.text(1.018, 0.147, name, ha='right', va='baseline', fontsize=64,
                family='Liberation Serif', color=name_colors[i])

fig.text(595 / 904, 1 - 1609 / 1618, 'B/T', ha='center', va='baseline', fontsize=36)

fig.savefig('out.png', dpi=100)
